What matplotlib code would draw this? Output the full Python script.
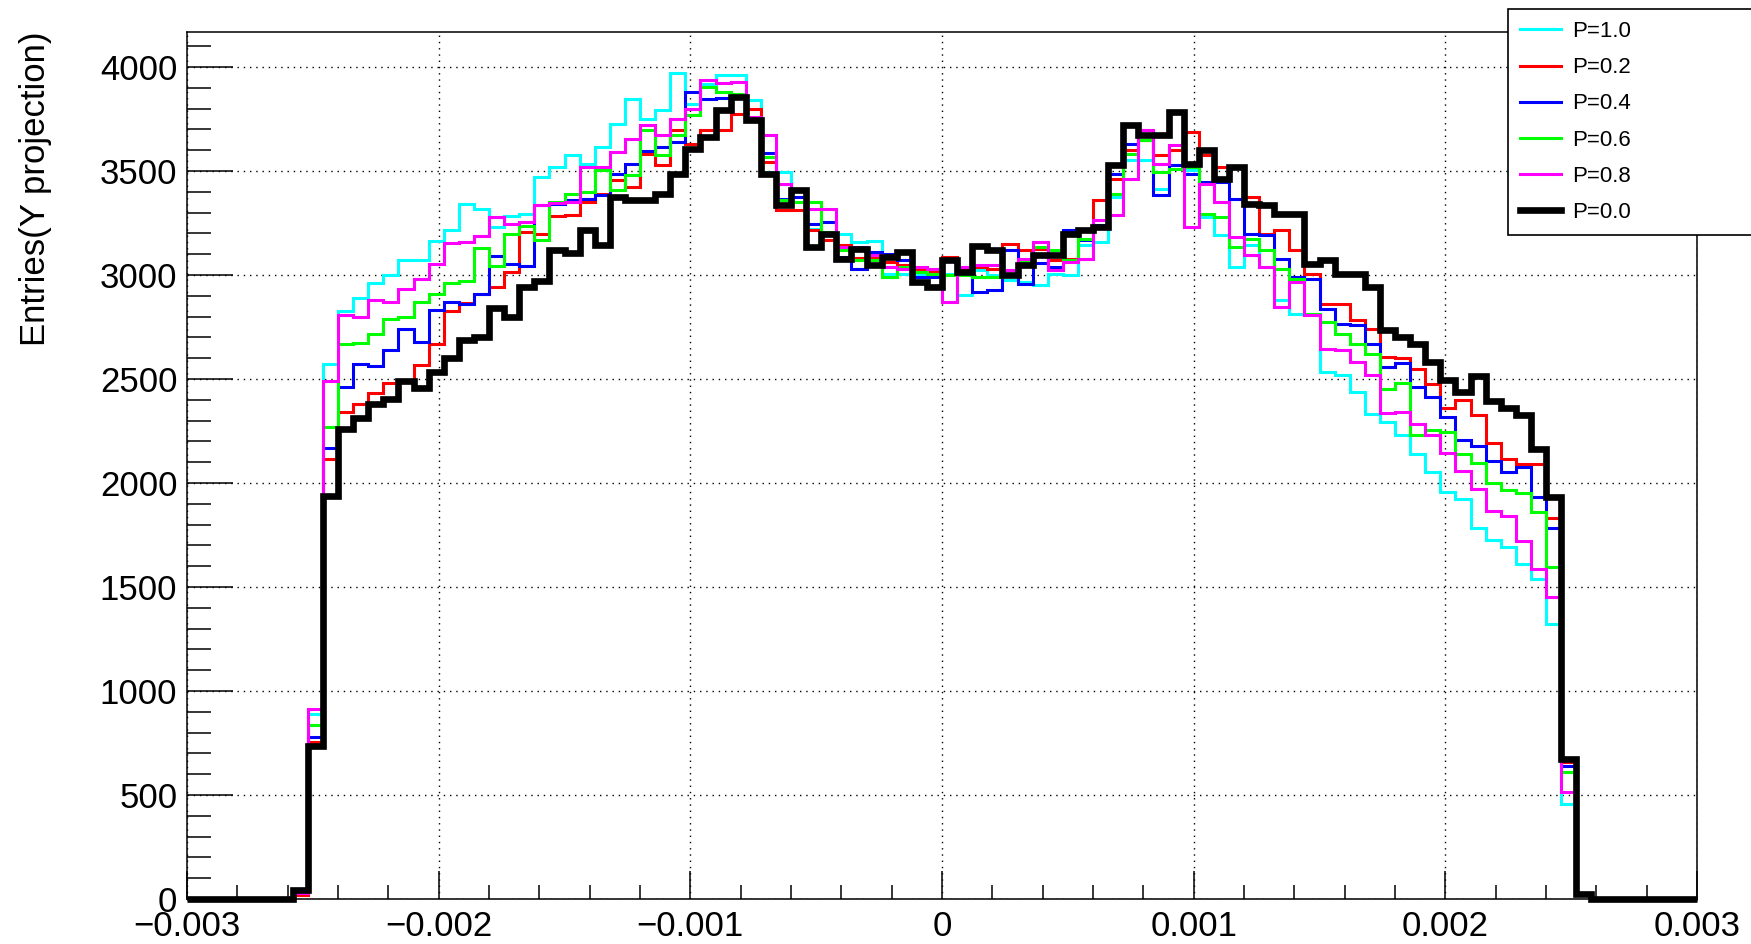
import matplotlib.pyplot as plt
import numpy as np
from matplotlib.ticker import FixedLocator, MultipleLocator

plt.rcParams['font.family'] = ['Liberation Sans', 'DejaVu Sans']

# histogram binning (100 bins)
X_MIN = -0.003
X_MAX = 0.003
N_BINS = 100

x_ticks = [-0.003, -0.002, -0.001, 0.0, 0.001, 0.002, 0.003]
x_tick_labels = ["\u22120.003", "\u22120.002", "\u22120.001", "0", "0.001", "0.002", "0.003"]

# entries per bin
p10 = [0, 0, 0, 0, 0, 0, 0, 30, 890, 2574,
       2827, 2889, 2962, 2998, 3070, 3070, 3163, 3218, 3343, 3319,
       3231, 3282, 3295, 3471, 3519, 3575, 3532, 3615, 3728, 3845,
       3752, 3792, 3973, 3824, 3920, 3963, 3963, 3840, 3495, 3495,
       3407, 3223, 3199, 3199, 3159, 3163, 3006, 3003, 3006, 2998,
       3006, 2902, 3022, 3000, 2974, 2966, 2950, 3006, 2998, 3143,
       3159, 3375, 3551, 3551, 3415, 3527, 3503, 3279, 3191, 3038,
       3143, 3038, 2878, 2814, 2814, 2534, 2518, 2438, 2333, 2293,
       2229, 2140, 2051, 1955, 1923, 1784, 1726, 1694, 1611, 1538,
       1322, 457, 20, 0, 0, 0, 0, 0, 0, 0]

p02 = [0, 0, 0, 0, 0, 0, 0, 20, 756, 2114,
       2341, 2378, 2433, 2481, 2486, 2566, 2667, 2825, 2865, 2910,
       2942, 3014, 3207, 3199, 3282, 3287, 3351, 3391, 3455, 3423,
       3583, 3527, 3696, 3631, 3696, 3696, 3776, 3800, 3543, 3311,
       3311, 3215, 3167, 3143, 3083, 3087, 3063, 3046, 3030, 3014,
       3087, 3030, 3038, 3030, 3151, 3122, 3127, 3071, 3079, 3215,
       3359, 3463, 3599, 3647, 3575, 3599, 3688, 3575, 3519, 3519,
       3375, 3199, 3215, 3119, 3006, 2862, 2862, 2782, 2742, 2606,
       2603, 2548, 2476, 2359, 2397, 2325, 2191, 2115, 2091, 2091,
       1830, 660, 20, 0, 0, 0, 0, 0, 0, 0]

p04 = [0, 0, 0, 0, 0, 0, 0, 30, 780, 2170,
       2462, 2571, 2561, 2638, 2742, 2678, 2830, 2870, 2862, 2910,
       3090, 3051, 3042, 3335, 3343, 3359, 3367, 3383, 3487, 3535,
       3596, 3615, 3639, 3880, 3848, 3853, 3864, 3744, 3587, 3367,
       3375, 3247, 3255, 3087, 3030, 3111, 3103, 3071, 2990, 2990,
       3071, 3014, 2918, 2926, 3119, 2958, 3058, 3038, 3215, 3167,
       3239, 3487, 3631, 3647, 3383, 3527, 3487, 3447, 3447, 3367,
       3199, 3191, 3079, 2990, 2982, 2838, 2763, 2758, 2670, 2558,
       2575, 2462, 2411, 2317, 2205, 2179, 2107, 2051, 2075, 1931,
       1784, 640, 25, 0, 0, 0, 0, 0, 0, 0]

p06 = [0, 0, 0, 0, 0, 0, 0, 35, 835, 2269,
       2670, 2673, 2718, 2787, 2798, 2870, 2907, 2961, 2971, 3131,
       3042, 3199, 3234, 3167, 3351, 3388, 3399, 3503, 3407, 3479,
       3696, 3575, 3671, 3768, 3904, 3880, 3872, 3752, 3567, 3359,
       3351, 3351, 3207, 3119, 3071, 3071, 2990, 3038, 3014, 3006,
       2998, 2998, 2990, 2990, 2998, 3063, 3135, 3119, 3071, 3175,
       3231, 3391, 3583, 3647, 3495, 3511, 3519, 3295, 3279, 3135,
       3175, 3119, 3030, 2982, 2814, 2774, 2718, 2670, 2622, 2454,
       2480, 2231, 2256, 2247, 2140, 2095, 1998, 1966, 1950, 1859,
       1595, 609, 25, 0, 0, 0, 0, 0, 0, 0]

p08 = [0, 0, 0, 0, 0, 0, 0, 30, 912, 2490,
       2808, 2798, 2878, 2870, 2934, 2982, 3051, 3154, 3159, 3186,
       3279, 3247, 3255, 3338, 3346, 3351, 3519, 3519, 3591, 3655,
       3720, 3671, 3752, 3800, 3939, 3923, 3928, 3760, 3671, 3439,
       3415, 3319, 3319, 3135, 3135, 3095, 3038, 3030, 3038, 3030,
       2870, 3038, 3046, 3046, 3022, 3079, 3159, 3022, 3063, 3079,
       3263, 3287, 3463, 3696, 3535, 3623, 3231, 3439, 3351, 3183,
       3095, 3038, 2846, 2966, 2806, 2646, 2638, 2582, 2518, 2335,
       2342, 2282, 2230, 2145, 2059, 1971, 1867, 1843, 1720, 1587,
       1450, 513, 20, 0, 0, 0, 0, 0, 0, 0]

p00 = [0, 0, 0, 0, 0, 0, 0, 45, 735, 1935,
       2260, 2310, 2380, 2405, 2490, 2455, 2535, 2600, 2685, 2700,
       2840, 2800, 2940, 2970, 3120, 3105, 3215, 3145, 3375, 3360,
       3360, 3388, 3487, 3607, 3663, 3792, 3856, 3744, 3487, 3335,
       3410, 3135, 3199, 3079, 3127, 3046, 3087, 3111, 2966, 2942,
       3071, 3014, 3138, 3119, 2998, 3046, 3095, 3095, 3199, 3215,
       3231, 3527, 3720, 3671, 3671, 3784, 3535, 3599, 3463, 3519,
       3343, 3335, 3295, 3295, 3054, 3071, 3006, 3006, 2942, 2734,
       2702, 2668, 2582, 2497, 2436, 2514, 2393, 2359, 2325, 2162,
       1931, 673, 24, 0, 0, 0, 0, 0, 0, 0]

labels = ["P=1.0", "P=0.2", "P=0.4", "P=0.6", "P=0.8", "P=0.0"]
colors = ["#00ffff", "#ff0000", "#0000ff", "#00ff00", "#ff00ff", "#000000"]

if __name__ == '__main__':
    edges = np.linspace(X_MIN, X_MAX, N_BINS + 1)
    series = [p10, p02, p04, p06, p08, p00]

    fig = plt.figure(figsize=(17.51, 9.44), dpi=100)
    ax = fig.add_axes([187 / 1751, 1 - 899 / 944, 1510 / 1751, 867 / 944])

    for vals, col, lab in zip(series, colors, labels):
        lw = 4.8 if lab == "P=0.0" else 2.2
        st = ax.stairs(vals, edges, color=col, linewidth=lw, label=lab,
                       baseline=0, clip_on=False)
        st.set_joinstyle('miter')

    ax.set_xlim(X_MIN, X_MAX)
    ax.set_ylim(0, 4168)

    ax.xaxis.set_major_locator(FixedLocator(x_ticks))
    ax.set_xticklabels(x_tick_labels)
    ax.xaxis.set_minor_locator(MultipleLocator(0.0002))
    ax.yaxis.set_major_locator(MultipleLocator(500))
    ax.yaxis.set_minor_locator(MultipleLocator(100))

    ax.tick_params(which='both', direction='in', top=False, right=False,
                   labelsize=25, width=1.1)
    ax.tick_params(axis='y', which='major', length=33, pad=7)
    ax.tick_params(axis='y', which='minor', length=17)
    ax.tick_params(axis='x', which='major', length=20, pad=8)
    ax.tick_params(axis='x', which='minor', length=10)

    ax.set_axisbelow(True)
    ax.grid(True, which='major', color='black', linestyle=(0, (1, 3.5)),
            linewidth=1.0)
    for sp in ax.spines.values():
        sp.set_linewidth(1.1)

    ax.set_ylabel('Entries(Y projection)', fontsize=25, loc='top')
    ax.yaxis.set_label_coords(-0.0894, 1.0)

    leg = fig.legend(loc='upper left',
                     bbox_to_anchor=(1508 / 1751, 0.7595, 0.14, 0.231),
                     mode='expand', fontsize=16, handlelength=1.85,
                     handletextpad=0.5, labelspacing=0.68, borderpad=0.55,
                     borderaxespad=0, fancybox=False, framealpha=1,
                     edgecolor='black')
    leg.get_frame().set_linewidth(1.2)

    fig.savefig('out.png', dpi=100)
